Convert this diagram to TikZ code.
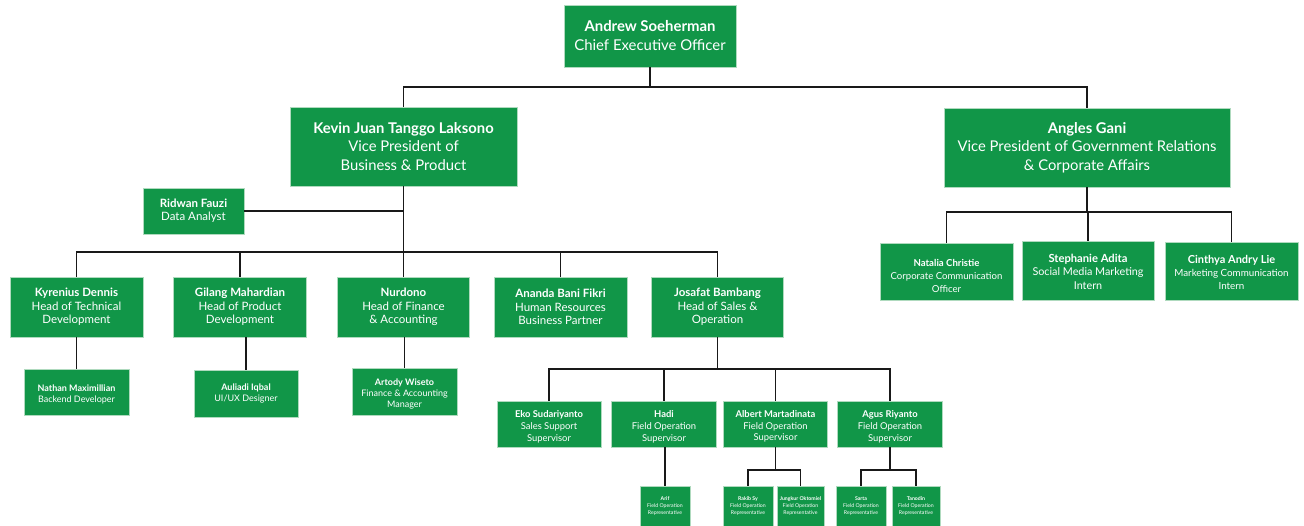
\documentclass[tikz,border=0pt]{standalone}
\usepackage{fontspec}
\setmainfont{Lato}
\definecolor{boxgreen}{RGB}{17,150,72}
\definecolor{boxedge}{RGB}{175,218,190}
\definecolor{wire}{RGB}{25,25,25}
\newcommand{\fsz}[2]{\fontsize{#1}{#2}\selectfont}
\newcommand{\lift}[1]{\rule{0pt}{#1}}
\begin{document}
\begin{tikzpicture}[x=1pt,y=-1pt,
  box/.style={fill=boxgreen, draw=boxedge, line width=0.6pt, text=white, align=center, inner sep=0pt},
  wire/.style={draw=wire, line width=1.3pt},
  ceofont/.style={font=\fsz{14.9}{19}},
  vpfont/.style={font=\fsz{14.8}{18.5}},
  lvtwo/.style={font=\fsz{11.5}{13.4}},
  lvthree/.style={font=\fsz{9}{11}},
  supfont/.style={font=\fsz{9.4}{11.7}},
  tiny/.style={font=\fsz{5.2}{6.8}}
]
\useasboundingbox (0,0) rectangle (1304,526);
\clip (0,0) rectangle (1304,526);

% top
\node[box, ceofont, minimum width=172pt, minimum height=62pt] (ceo) at (650,36) {\textbf{Andrew Soeherman}\\Chief Executive Officer};
\node[box, vpfont, minimum width=227pt, minimum height=79pt] (kevin) at (403.5,146.5) {\textbf{Kevin Juan Tanggo Laksono}\\Vice President of\\Business \& Product};
\node[box, vpfont, minimum width=286pt, minimum height=79pt] (angles) at (1087,147.5) {\textbf{Angles Gani}\\Vice President of Government Relations\\\& Corporate Affairs};

% left branch
\node[box, lvtwo, minimum width=101pt, minimum height=46pt] (ridwan) at (193.5,211) {\textbf{Ridwan Fauzi}\\Data Analyst};
\node[box, lvtwo, minimum width=133pt, minimum height=60pt] (kyrenius) at (76.5,307) {\textbf{Kyrenius Dennis}\\Head of Technical\\Development};
\node[box, lvtwo, minimum width=133pt, minimum height=60pt] (gilang) at (240,307) {\textbf{Gilang Mahardian}\\Head of Product\\Development};
\node[box, lvtwo, minimum width=132pt, minimum height=60pt] (nurdono) at (403.5,307) {\textbf{Nurdono}\\Head of Finance\\\& Accounting};
\node[box, lvtwo, minimum width=133pt, minimum height=60pt] (ananda) at (560.5,307) {\textbf{Ananda Bani Fikri}\\Human Resources\\Business Partner};
\node[box, lvtwo, minimum width=132pt, minimum height=60pt] (josafat) at (717.5,307) {\textbf{Josafat Bambang}\\Head of Sales \&\\Operation};

\node[box, lvthree, minimum width=105pt, minimum height=46pt] (nathan) at (76.5,392) {\lift{12pt}\textbf{Nathan Maximillian}\\Backend Developer};
\node[box, lvthree, minimum width=104pt, minimum height=47pt] (auliadi) at (246,393.5) {\textbf{Auliadi Iqbal}\\UI/UX Designer};
\node[box, lvthree, minimum width=105pt, minimum height=47pt] (artody) at (404.5,391.5) {\lift{11pt}\textbf{Artody Wiseto}\\Finance \& Accounting\\Manager};

% sales
\node[box, supfont, minimum width=104pt, minimum height=46pt] (eko) at (549,424) {\lift{13pt}\textbf{Eko Sudariyanto}\\Sales Support\\Supervisor};
\node[box, supfont, minimum width=105pt, minimum height=46pt] (hadi) at (664,424) {\lift{13pt}\textbf{Hadi}\\Field Operation\\Supervisor};
\node[box, supfont, minimum width=104pt, minimum height=46pt] (albert) at (775.5,424) {\lift{12pt}\textbf{Albert Martadinata}\\Field Operation\\Supervisor};
\node[box, supfont, minimum width=105pt, minimum height=46pt] (agus) at (890,424) {\lift{13pt}\textbf{Agus Riyanto}\\Field Operation\\Supervisor};

\node[box, tiny, minimum width=50pt, minimum height=40pt] (arif) at (665,506) {\textbf{Arif}\\Field Operation\\Representative};
\node[box, tiny, minimum width=50pt, minimum height=40pt] (rakib) at (748,506) {\textbf{Rakib Sy}\\Field Operation\\Representative};
\node[box, tiny, minimum width=47pt, minimum height=40pt] (jungkur) at (800.5,506) {\textbf{Jungkur Oktomiel}\\Field Operation\\Representative};
\node[box, tiny, minimum width=50pt, minimum height=40pt] (sarta) at (861,506) {\textbf{Sarta}\\Field Operation\\Representative};
\node[box, tiny, minimum width=48pt, minimum height=40pt] (tanodin) at (916,506) {\textbf{Tanodin}\\Field Operation\\Representative};

% right branch
\node[box, font=\fsz{9.6}{12.8}, minimum width=133pt, minimum height=57pt] (natalia) at (946.5,271.5) {\lift{16pt}\textbf{Natalia Christie}\\Corporate Communication\\Officer};
\node[box, font=\fsz{10.8}{13.6}, minimum width=132pt, minimum height=59pt] (stephanie) at (1088,270.5) {{\fsz{11.2}{13.6}\lift{11pt}\textbf{Stephanie Adita}}\\Social Media Marketing\\Intern};
\node[box, font=\fsz{9.8}{13}, minimum width=133pt, minimum height=58pt] (cinthya) at (1231.5,271) {{\fsz{11}{13}\lift{12pt}\textbf{Cinthya Andry Lie}}\\Marketing Communication\\Intern};

% bus coordinates
\coordinate (busceo) at (0,87);
\coordinate (buskevin) at (0,252);
\coordinate (busangles) at (0,212);
\coordinate (busjosafat) at (0,369);
\coordinate (busalbert) at (0,470);
\coordinate (busagus) at (0,470);

% connectors
\draw[wire] (ceo.south) -- (ceo.south |- busceo) -| (kevin.north);
\draw[wire] (ceo.south |- busceo) -| (angles.north);

\draw[wire] (kevin.south) -- (kevin.south |- buskevin);
\draw[wire] (ridwan.east) -- (ridwan.east -| kevin.south);
\foreach \c in {kyrenius,gilang,nurdono,ananda,josafat}
  \draw[wire] (kevin.south |- buskevin) -| (\c.north);

\draw[wire] (kyrenius.south) -- (nathan.north);
\draw[wire] (auliadi.north |- gilang.south) -- (auliadi.north);
\draw[wire] (artody.north |- nurdono.south) -- (artody.north);

\draw[wire] (josafat.south) -- (josafat.south |- busjosafat);
\foreach \c in {eko,hadi,albert,agus}
  \draw[wire] (josafat.south |- busjosafat) -| (\c.north);

\draw[wire] (arif.north |- hadi.south) -- (arif.north);
\draw[wire] (albert.south) -- (albert.south |- busalbert);
\foreach \c in {rakib,jungkur}
  \draw[wire] (albert.south |- busalbert) -| (\c.north);
\draw[wire] (agus.south) -- (agus.south |- busagus);
\foreach \c in {sarta,tanodin}
  \draw[wire] (agus.south |- busagus) -| (\c.north);

\draw[wire] (angles.south) -- (angles.south |- busangles);
\foreach \c in {natalia,stephanie,cinthya}
  \draw[wire] (angles.south |- busangles) -| (\c.north);
\end{tikzpicture}
\end{document}
